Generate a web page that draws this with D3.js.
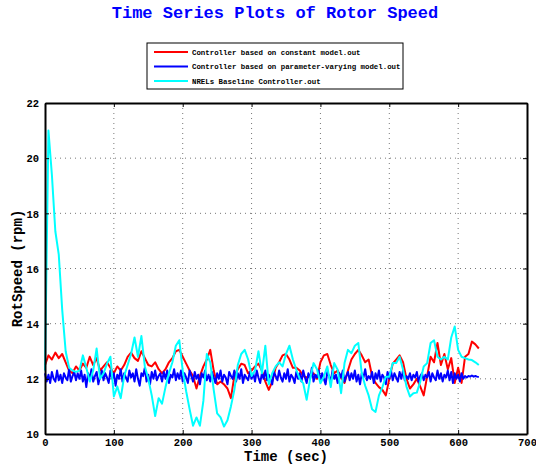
<!DOCTYPE html>
<html>
<head>
<meta charset="utf-8">
<script src="https://cdn.jsdelivr.net/npm/d3@7"></script>
<style>
  body { margin: 0; background: #fff; }
  svg text { font-family: 'Liberation Mono', 'DejaVu Sans Mono', monospace; font-weight: bold; }
</style>
</head>
<body>
<div id="chart"></div>
<script>
'use strict';

/* Data (rotor speed in rpm) */

var xTicks = [0, 100, 200, 300, 400, 500, 600, 700];
var yTicks = [10, 12, 14, 16, 18, 20, 22];

var seriesNames = ['Controller based on constant model.out',
                   'Controller based on parameter-varying model.out',
                   'NRELs Baseline Controller.out'];
var seriesColors = ['#ff0000', '#0000ff', '#00ffff'];

// sampled every 5 s from t = 0
var constantStep = 5;
var constantModel = [
  12.5, 12.85, 12.7, 12.95, 12.75, 12.9, 12.6, 12.3, 12.2, 12.45,
  12.3, 12.55, 12.4, 12.8, 12.5, 12.75, 12.3, 12.45, 12.6, 12.4,
  12.2, 12.45, 12.3, 12.5, 12.8, 12.95, 12.75, 12.65, 13.0, 12.75,
  12.5, 12.45, 12.6, 12.35, 12.2, 12.35, 12.6, 12.75, 13.0, 13.05,
  12.8, 12.55, 12.3, 12.1, 11.65, 12.1, 12.45, 12.7, 13.05, 12.3,
  11.8, 11.9, 11.8, 11.65, 11.3, 12.1, 12.35, 12.55, 12.5, 12.2,
  12.3, 12.45, 12.55, 12.3, 11.9, 11.6, 11.9, 12.4, 12.6, 12.85,
  12.9, 12.7, 12.4, 12.4, 12.3, 12.1, 12.05, 12.1, 12.2, 12.0,
  12.6, 12.85, 12.9, 12.5, 12.2, 12.3, 12.05, 11.85, 12.3, 12.7,
  12.9, 13.05, 12.85, 12.6, 12.7, 12.1, 11.85, 11.7, 11.6, 11.4,
  12.0, 12.55, 12.7, 12.85, 12.6, 12.0, 11.65, 11.8, 12.0, 11.72,
  11.4, 12.1, 12.8, 12.6, 13.3, 12.5, 12.9, 12.35, 12.75, 11.85,
  12.4, 11.85, 12.8, 12.9, 13.35, 13.25, 13.1
];

// sampled every 2.5 s from t = 0
var varyingStep = 2.5;
var varyingModel = [
  12.2, 11.9, 12.15, 11.85, 12.25, 12.0, 11.9, 12.3, 11.95, 12.15,
  11.85, 12.2, 12.05, 11.95, 12.35, 11.9, 12.1, 12.25, 11.95, 12.2,
  12.0, 12.3, 11.9, 12.15, 11.7, 12.2, 12.0, 12.35, 11.9, 12.1,
  12.25, 11.8, 12.1, 12.3, 11.95, 12.2, 12.05, 11.85, 12.3, 12.0,
  12.2, 11.75, 12.15, 12.0, 12.35, 11.9, 12.2, 12.05, 11.9, 12.3,
  12.05, 12.2, 11.9, 12.35, 12.0, 11.75, 12.2, 12.1, 12.4, 11.9,
  12.15, 11.8, 12.25, 12.0, 12.3, 11.95, 12.1, 12.2, 11.9, 12.25,
  12.0, 12.3, 11.85, 12.15, 12.05, 12.35, 11.95, 12.2, 12.0, 12.3,
  11.9, 12.2, 12.05, 11.85, 12.3, 12.1, 11.9, 12.25, 12.0, 12.15,
  11.8, 12.2, 12.05, 12.3, 11.95, 12.15, 11.9, 12.25, 12.05, 11.85,
  12.2, 12.0, 12.3, 11.9, 12.15, 12.05, 11.8, 12.25, 12.1, 12.0,
  12.3, 11.9, 12.2, 12.0, 12.35, 11.85, 12.15, 12.05, 11.95, 12.25,
  12.0, 12.2, 11.9, 12.3, 12.05, 11.85, 12.2, 12.0, 12.3, 11.95,
  12.15, 12.0, 11.8, 12.25, 12.1, 11.95, 12.3, 12.05, 11.9, 12.2,
  12.0, 12.35, 11.9, 12.15, 12.05, 11.85, 12.25, 12.0, 12.2, 11.9,
  12.3, 12.05, 11.85, 12.2, 12.0, 12.4, 11.9, 12.15, 12.05, 12.3,
  11.95, 12.2, 12.0, 11.8, 12.25, 12.1, 11.9, 12.3, 12.0, 12.15,
  11.85, 12.2, 12.05, 12.3, 11.9, 12.1, 12.25, 11.95, 12.2, 12.0,
  12.3, 11.9, 12.15, 11.8, 12.2, 12.05, 12.35, 11.95, 12.1, 12.0,
  12.25, 11.85, 12.2, 12.0, 12.3, 11.9, 12.15, 12.05, 11.8, 12.25,
  12.0, 12.3, 11.95, 12.2, 12.05, 11.9, 12.25, 12.0, 12.3, 11.95,
  12.1, 12.0, 12.2, 11.95, 12.15, 12.05, 12.25, 11.9, 12.1, 12.2,
  11.95, 12.15, 12.05, 12.25, 11.9, 12.2, 12.05, 11.95, 12.3, 12.0,
  12.2, 11.9, 12.15, 12.05, 12.3, 11.95, 12.25, 11.85, 12.2, 12.0,
  12.15, 11.9, 12.2, 12.0, 12.1, 12.05, 12.1, 12.08, 12.12, 12.08,
  12.1, 12.08, 12.07
];

// sampled every 5 s from t = 0
var baselineStep = 5;
var baseline = [
  12.3, 21.0, 19.4, 17.35, 16.5, 14.5, 13.0, 12.4, 12.3, 12.25,
  12.3, 12.85, 12.4, 11.9, 12.3, 13.1, 12.0, 12.2, 12.55, 12.8,
  11.36, 11.72, 11.3, 12.1, 12.5, 12.9, 13.5, 12.8, 13.55, 12.45,
  12.0, 11.4, 10.65, 11.3, 11.1, 11.7, 12.2, 12.6, 13.2, 13.4,
  12.3, 11.55, 10.9, 10.3, 10.6, 10.3, 11.2, 12.9, 12.6, 11.6,
  10.75, 10.6, 10.27, 10.5, 11.0, 11.6, 12.5, 12.9, 13.05, 12.7,
  12.1, 12.3, 13.0, 12.2, 13.2, 11.8, 12.2, 12.45, 12.6, 12.45,
  12.9, 13.2, 12.7, 12.33, 12.0, 11.84, 11.24, 12.0, 12.57, 12.35,
  11.84, 12.08, 12.45, 11.7, 12.57, 12.33, 11.48, 12.57, 13.05, 12.93,
  13.2, 13.3, 12.2, 11.75, 11.4, 10.9, 10.8, 11.4, 11.7, 12.08,
  12.08, 12.57, 12.57, 12.8, 12.33, 11.72, 11.36, 11.48, 11.5, 11.9,
  12.45, 12.57, 13.3, 13.4, 12.8, 12.7, 12.8, 12.7, 13.5, 13.9,
  13.05, 12.8, 12.75, 12.7, 12.68, 12.6, 12.5
];

var series = [
  { values: constantModel, step: constantStep },
  { values: varyingModel, step: varyingStep },
  { values: baseline, step: baselineStep }
];

/* Layout */

var w = 536;
var h = 466;
var plotLeft = 45;
var plotRight = 527;
var plotTop = 103;
var plotBottom = 434;
var tickLen = 4;

var svg = d3.select('#chart').append('svg')
  .attr('width', w)
  .attr('height', h);

var x = d3.scaleLinear().domain([0, 700]).range([plotLeft, plotRight]);
var y = d3.scaleLinear().domain([10, 22]).range([plotBottom, plotTop]);

/* Title */

svg.append('text')
  .text('Time Series Plots of Rotor Speed')
  .attr('x', 275)
  .attr('y', 18)
  .attr('text-anchor', 'middle')
  .attr('font-size', '17px')
  .attr('fill', '#0000ff');

/* Grid */

svg.append('g')
  .selectAll('line')
  .data(xTicks.slice(1, -1))
  .enter()
  .append('line')
  .attr('x1', function (d) { return x(d); })
  .attr('x2', function (d) { return x(d); })
  .attr('y1', plotTop)
  .attr('y2', plotBottom)
  .style('stroke', '#777')
  .style('stroke-width', 1)
  .style('stroke-dasharray', '1,4');

svg.append('g')
  .selectAll('line')
  .data(yTicks.slice(1, -1))
  .enter()
  .append('line')
  .attr('x1', plotLeft)
  .attr('x2', plotRight)
  .attr('y1', function (d) { return y(d); })
  .attr('y2', function (d) { return y(d); })
  .style('stroke', '#777')
  .style('stroke-width', 1)
  .style('stroke-dasharray', '1,4');

/* Lines */

var line = d3.line()
  .x(function (d) { return x(d.t); })
  .y(function (d) { return y(d.v); });

series.forEach(function (s, k) {
  var pts = s.values.map(function (v, i) { return { t: i * s.step, v: v }; });
  svg.append('path')
    .datum(pts)
    .attr('d', line)
    .style('fill', 'none')
    .style('stroke', seriesColors[k])
    .style('stroke-width', 2)
    .style('stroke-linejoin', 'round');
});

/* Axes (box with inward ticks) */

var bottomAxis = d3.axisBottom(x).tickValues(xTicks).tickSizeInner(-tickLen).tickSizeOuter(0).tickPadding(5);
var leftAxis = d3.axisLeft(y).tickValues(yTicks).tickSizeInner(-tickLen).tickSizeOuter(0).tickPadding(6);
var topAxis = d3.axisTop(x).tickValues(xTicks).tickSizeInner(-tickLen).tickSizeOuter(0).tickFormat('');
var rightAxis = d3.axisRight(y).tickValues(yTicks).tickSizeInner(-tickLen).tickSizeOuter(0).tickFormat('');

var gx = svg.append('g').attr('transform', 'translate(0,' + plotBottom + ')').call(bottomAxis);
var gy = svg.append('g').attr('transform', 'translate(' + plotLeft + ',0)').call(leftAxis);
var gt = svg.append('g').attr('transform', 'translate(0,' + plotTop + ')').call(topAxis);
var gr = svg.append('g').attr('transform', 'translate(' + plotRight + ',0)').call(rightAxis);

[gx, gy, gt, gr].forEach(function (g) {
  g.select('.domain').style('stroke', '#000').style('stroke-width', 2);
  g.selectAll('.tick line').style('stroke', '#000').style('stroke-width', 1);
  g.selectAll('text')
    .attr('font-size', '10.5px')
    .attr('font-family', null)
    .style('font-family', "'Liberation Mono', monospace")
    .style('font-weight', 'bold')
    .attr('fill', '#000');
});
gy.selectAll('text').attr('dy', '0.35em');

/* Axis labels */

svg.append('text')
  .text('Time (sec)')
  .attr('x', (plotLeft + plotRight) / 2)
  .attr('y', 461)
  .attr('text-anchor', 'middle')
  .attr('font-size', '14px')
  .attr('fill', '#000');

svg.append('text')
  .text('RotSpeed (rpm)')
  .attr('transform', 'translate(22,' + ((plotTop + plotBottom) / 2) + ') rotate(-90)')
  .attr('text-anchor', 'middle')
  .attr('font-size', '14px')
  .attr('fill', '#000');

/* Legend */

var legend = svg.append('g');

legend.append('rect')
  .attr('x', 147)
  .attr('y', 43)
  .attr('width', 256)
  .attr('height', 46)
  .style('fill', '#fff')
  .style('stroke', '#000')
  .style('stroke-width', 1);

var items = legend.selectAll('g.item')
  .data(seriesNames)
  .enter()
  .append('g')
  .attr('class', 'item')
  .attr('transform', function (d, i) { return 'translate(0,' + (52 + i * 14.5) + ')'; });

items.append('line')
  .attr('x1', 154)
  .attr('x2', 188)
  .attr('y1', 0)
  .attr('y2', 0)
  .style('stroke', function (d, i) { return seriesColors[i]; })
  .style('stroke-width', 2);

items.append('text')
  .text(function (d) { return d; })
  .attr('x', 192)
  .attr('y', 2.6)
  .attr('font-size', '7.4px')
  .attr('fill', '#000');
</script>
</body>
</html>
